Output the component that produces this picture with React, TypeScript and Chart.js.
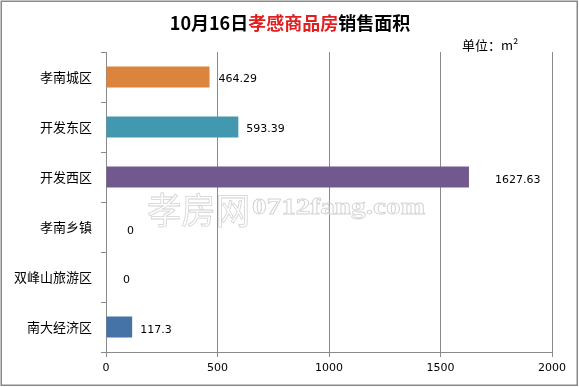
import React, { useEffect, useRef } from "react";
import { Chart, registerables } from "chart.js";

Chart.register(...registerables);

const categories = ["孝南城区", "开发东区", "开发西区", "孝南乡镇", "双峰山旅游区", "南大经济区"];
const salesArea = [464.29, 593.39, 1627.63, 0, 0, 117.3];
const valueLabels = ["464.29", "593.39", "1627.63", "0", "0", "117.3"];
const barColors = ["#DB843D", "#4198AF", "#71588F", "#4198AF", "#4198AF", "#4572A7"];
const xTicks = [0, 500, 1000, 1500, 2000];
const titleParts = [
  { text: "10月16日", color: "#000000" },
  { text: "孝感商品房", color: "#E02020" },
  { text: "销售面积", color: "#000000" },
];
const unitText = "单位：m²";
const watermarkCn = "孝房网";
const watermarkEn = "0712fang.com";

// label placement tweaks (style only)
const labelDx = [9, 8, 26, 21, 17, 8];
const labelDy = [2, 2, 3, 4, 3, 3];

const decorPlugin = {
  id: "decor",
  beforeDatasetsDraw(chart: any) {
    const ctx = chart.ctx;
    ctx.save();
    // watermark
    ctx.strokeStyle = "#d2d2d2";
    ctx.lineWidth = 0.8;
    ctx.textBaseline = "middle";
    ctx.textAlign = "left";
    ctx.font = "36px 'Noto Sans CJK SC'";
    const cnW = ctx.measureText(watermarkCn).width;
    ctx.save();
    ctx.translate(147, 210);
    ctx.scale(103 / cnW, 1);
    ctx.strokeText(watermarkCn, 0, 0);
    ctx.restore();
    ctx.font = "bold 24px 'Liberation Serif'";
    const enW = ctx.measureText(watermarkEn).width;
    ctx.save();
    ctx.translate(252, 208);
    ctx.scale(173 / enW, 1);
    ctx.strokeText(watermarkEn, 0, 0);
    ctx.restore();
    ctx.restore();
  },
  afterDatasetsDraw(chart: any) {
    const ctx = chart.ctx;
    ctx.save();
    const meta = chart.getDatasetMeta(0);
    ctx.font = "11px 'DejaVu Sans'";
    ctx.fillStyle = "#000";
    ctx.textAlign = "left";
    ctx.textBaseline = "middle";
    meta.data.forEach((bar: any, i: number) => {
      ctx.fillText(valueLabels[i], bar.x + labelDx[i], bar.y + labelDy[i]);
    });
    ctx.restore();
  },
  afterDraw(chart: any) {
    const ctx = chart.ctx;
    ctx.save();
    // title
    ctx.font = "bold 18px 'Noto Sans CJK SC'";
    ctx.textBaseline = "middle";
    ctx.textAlign = "left";
    const total = titleParts.reduce((s, p) => s + ctx.measureText(p.text).width, 0);
    let x = 290 - total / 2;
    titleParts.forEach((p) => {
      ctx.fillStyle = p.color;
      ctx.fillText(p.text, x, 23);
      x += ctx.measureText(p.text).width;
    });
    // unit
    ctx.font = "13px 'Noto Sans CJK SC'";
    ctx.fillStyle = "#000";
    ctx.fillText(unitText, 462, 45);
    // outer border
    ctx.strokeStyle = "#888888";
    ctx.lineWidth = 1.5;
    ctx.strokeRect(1.25, 1.25, 576, 384);
    ctx.restore();
  },
};

export default function App() {
  const ref = useRef<HTMLCanvasElement>(null);
  useEffect(() => {
    document.body.style.margin = "0";
    const chart = new Chart(ref.current!, {
      type: "bar",
      data: {
        labels: categories,
        datasets: [
          {
            data: salesArea,
            backgroundColor: barColors,
            borderWidth: 0,
            barPercentage: 0.42,
            categoryPercentage: 1,
          },
        ],
      },
      options: {
        indexAxis: "y",
        responsive: false,
        animation: false,
        devicePixelRatio: 1,
        layout: { padding: { top: 52, right: 27, left: 0, bottom: 0 } },
        plugins: { legend: { display: false }, tooltip: { enabled: false }, title: { display: false } },
        scales: {
          x: {
            min: 0,
            max: 2000,
            afterBuildTicks: (scale: any) => {
              scale.ticks = xTicks.map((v) => ({ value: v }));
            },
            afterFit: (scale: any) => {
              scale.height = 35;
            },
            grid: { color: "#8a8a8a", lineWidth: 1, tickLength: 5, drawTicks: true },
            border: { color: "#8a8a8a", width: 1 },
            ticks: {
              color: "#000",
              font: { family: "'DejaVu Sans'", size: 11 },
              padding: 5,
              maxRotation: 0,
              callback: (v: any) => String(v),
            },
          },
          y: {
            afterFit: (scale: any) => {
              scale.width = 106;
            },
            grid: { offset: true, drawOnChartArea: false, color: "#8a8a8a", tickLength: 5 },
            border: { color: "#8a8a8a", width: 1 },
            ticks: { color: "#000", font: { family: "'Noto Sans CJK SC'", size: 13 }, padding: 9, crossAlign: "near" },
          },
        },
      },
      plugins: [decorPlugin],
    } as any);
    return () => chart.destroy();
  }, []);
  return (
    <div style={{ width: 579, height: 387, position: "relative", background: "#fff" }}>
      <canvas ref={ref} width={579} height={387} />
    </div>
  );
}
